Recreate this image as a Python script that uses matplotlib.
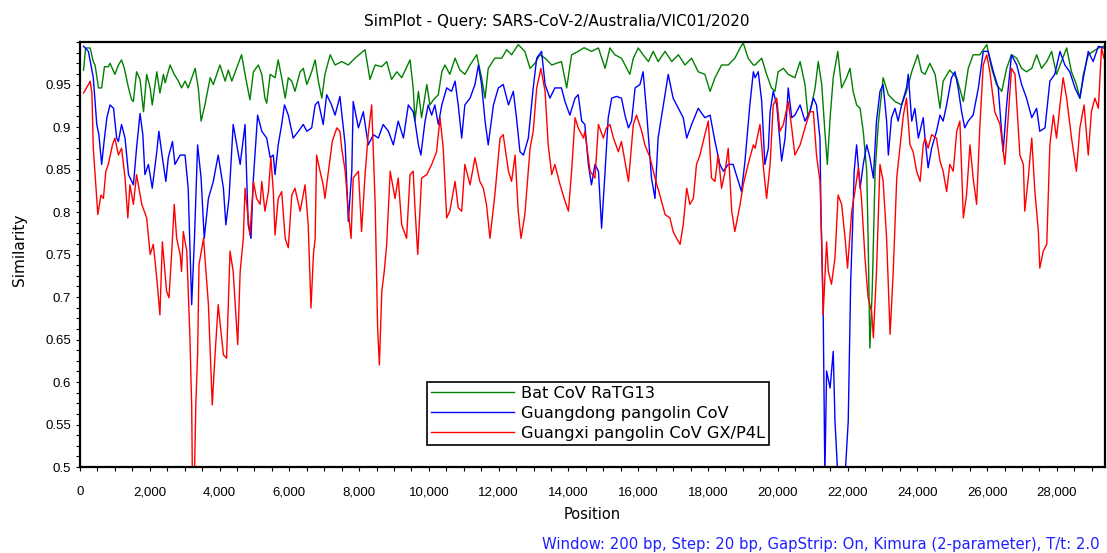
import matplotlib
matplotlib.use("Agg")
import matplotlib.pyplot as plt
from matplotlib.ticker import MultipleLocator, FuncFormatter

plt.rcParams['font.family'] = ['Liberation Sans', 'DejaVu Sans']
label_font = ['DejaVu Sans']

title = "SimPlot - Query: SARS-CoV-2/Australia/VIC01/2020"
footnote = "Window: 200 bp, Step: 20 bp, GapStrip: On, Kimura (2-parameter), T/t: 2.0"
series_names = ["Bat CoV RaTG13", "Guangdong pangolin CoV", "Guangxi pangolin CoV GX/P4L"]
series_colors = ["#008000", "#0000ff", "#ff0000"]

# values (position in bp, similarity)
bat_pos = [100, 160, 290, 380, 430, 530, 620, 700, 810, 860, 1000, 1100, 1190, 1270, 1390,
           1480, 1530, 1620, 1720, 1820, 1910, 2010, 2070, 2200, 2290, 2390, 2440, 2580, 2700,
           2820, 2910, 3010, 3100, 3300, 3390, 3470, 3580, 3730, 3820, 4010, 4160, 4250, 4350,
           4630, 4730, 4870, 4970, 5110, 5210, 5300, 5350, 5450, 5590, 5680, 5780, 5880, 5970,
           6070, 6160, 6310, 6400, 6500, 6640, 6740, 6830, 6930, 7020, 7170, 7310, 7500, 7690,
           7880, 8170, 8310, 8460, 8650, 8790, 8930, 9080, 9220, 9460, 9550, 9600, 9700, 9790,
           9940, 10030, 10130, 10270, 10370, 10460, 10600, 10750, 10890, 11030, 11180, 11370,
           11510, 11610, 11700, 11890, 12090, 12230, 12370, 12560, 12750, 12900, 13040, 13180,
           13330, 13520, 13800, 13950, 14090, 14280, 14430, 14470, 14660, 14860, 15050, 15190,
           15330, 15520, 15620, 15760, 15860, 16000, 16140, 16290, 16430, 16570, 16770, 16960,
           17150, 17340, 17530, 17720, 17910, 18060, 18200, 18390, 18580, 18770, 18920, 19010,
           19150, 19300, 19350, 19540, 19680, 19820, 19920, 20010, 20160, 20300, 20490, 20640,
           20780, 20870, 20970, 21070, 21160, 21260, 21350, 21420, 21500, 21590, 21720, 21830,
           21970, 22070, 22160, 22260, 22360, 22450, 22550, 22590, 22640, 22710, 22790, 22880,
           23020, 23170, 23360, 23550, 23690, 23840, 24010, 24120, 24220, 24360, 24510, 24650,
           24740, 24930, 25130, 25320, 25460, 25600, 25790, 25990, 26130, 26270, 26420, 26560,
           26700, 26850, 26990, 27130, 27280, 27420, 27560, 27710, 27850, 27990, 28130, 28280,
           28420, 28560, 28660, 28760, 28900, 29040, 29190, 29330]
bat_sim = [0.967, 0.993, 0.993, 0.977, 0.973, 0.946, 0.946, 0.971, 0.971, 0.975, 0.962, 0.973,
           0.979, 0.969, 0.946, 0.932, 0.930, 0.965, 0.956, 0.918, 0.962, 0.946, 0.926, 0.965,
           0.940, 0.962, 0.952, 0.973, 0.962, 0.954, 0.946, 0.954, 0.946, 0.969, 0.946, 0.907,
           0.926, 0.958, 0.950, 0.973, 0.954, 0.967, 0.954, 0.985, 0.962, 0.932, 0.965, 0.973,
           0.962, 0.934, 0.928, 0.962, 0.958, 0.979, 0.958, 0.934, 0.958, 0.954, 0.942, 0.965,
           0.969, 0.950, 0.965, 0.979, 0.954, 0.934, 0.962, 0.985, 0.973, 0.977, 0.973, 0.981,
           0.991, 0.956, 0.973, 0.971, 0.977, 0.956, 0.965, 0.958, 0.979, 0.946, 0.907, 0.942,
           0.911, 0.950, 0.926, 0.932, 0.938, 0.965, 0.973, 0.962, 0.981, 0.967, 0.962, 0.973,
           0.985, 0.958, 0.934, 0.969, 0.981, 0.981, 0.991, 0.985, 0.997, 0.989, 0.969, 0.975,
           0.985, 0.981, 0.973, 0.977, 0.946, 0.985, 0.989, 0.993, 0.993, 0.989, 0.993, 0.969,
           0.993, 0.985, 0.981, 0.973, 0.962, 0.981, 0.993, 0.985, 0.977, 0.989, 0.977, 0.989,
           0.977, 0.985, 0.973, 0.981, 0.965, 0.962, 0.942, 0.958, 0.973, 0.973, 0.981, 0.993,
           0.999, 0.981, 0.973, 0.973, 0.981, 0.962, 0.946, 0.942, 0.965, 0.969, 0.962, 0.958,
           0.977, 0.950, 0.911, 0.926, 0.946, 0.977, 0.950, 0.895, 0.856, 0.911, 0.958, 0.989,
           0.946, 0.958, 0.969, 0.942, 0.926, 0.922, 0.895, 0.848, 0.769, 0.640, 0.711, 0.848,
           0.903, 0.958, 0.938, 0.930, 0.926, 0.942, 0.965, 0.985, 0.965, 0.962, 0.975, 0.962,
           0.922, 0.954, 0.967, 0.958, 0.930, 0.969, 0.985, 0.985, 0.997, 0.969, 0.950, 0.942,
           0.969, 0.985, 0.981, 0.969, 0.965, 0.969, 0.985, 0.969, 0.977, 0.989, 0.962, 0.977,
           0.993, 0.965, 0.950, 0.934, 0.962, 0.985, 0.989, 0.993, 0.995]

gd_pos = [100, 240, 380, 480, 540, 620, 700, 770, 860, 960, 1050, 1100, 1190, 1290, 1390, 1530,
          1620, 1720, 1800, 1860, 1960, 2070, 2200, 2260, 2360, 2460, 2530, 2650, 2720, 2870,
          3010, 3100, 3200, 3280, 3370, 3470, 3560, 3680, 3820, 3960, 4110, 4180, 4270, 4390,
          4590, 4730, 4820, 4900, 4970, 5090, 5210, 5350, 5450, 5540, 5590, 5680, 5780, 5860,
          5970, 6110, 6260, 6400, 6500, 6640, 6740, 6830, 6970, 7070, 7210, 7310, 7450, 7600,
          7690, 7790, 7830, 7980, 8120, 8260, 8410, 8550, 8690, 8840, 8980, 9120, 9270, 9410,
          9550, 9600, 9700, 9770, 9890, 9980, 10080, 10170, 10270, 10370, 10510, 10650, 10750,
          10840, 10940, 11030, 11180, 11320, 11420, 11510, 11610, 11700, 11850, 11990, 12130,
          12280, 12420, 12510, 12610, 12710, 12850, 12990, 13090, 13230, 13330, 13470, 13610,
          13800, 13900, 14040, 14190, 14280, 14380, 14470, 14570, 14660, 14760, 14860, 14950,
          15050, 15140, 15240, 15380, 15520, 15620, 15720, 15810, 15910, 16050, 16140, 16240,
          16380, 16480, 16570, 16720, 16860, 17000, 17150, 17290, 17390, 17530, 17720, 17910,
          18060, 18200, 18340, 18440, 18580, 18720, 18870, 18960, 19060, 19200, 19300, 19350,
          19440, 19540, 19630, 19730, 19780, 19870, 19970, 20110, 20210, 20300, 20400, 20490,
          20640, 20780, 20920, 21020, 21110, 21210, 21240, 21300, 21350, 21400, 21500, 21590,
          21640, 21720, 21930, 22020, 22090, 22140, 22190, 22260, 22360, 22450, 22550, 22640,
          22740, 22830, 22930, 23020, 23120, 23170, 23260, 23360, 23450, 23550, 23690, 23740,
          23840, 23930, 24030, 24170, 24220, 24310, 24410, 24550, 24650, 24740, 24840, 24980,
          25080, 25170, 25270, 25360, 25460, 25600, 25750, 25890, 26030, 26180, 26320, 26460,
          26560, 26700, 26850, 26990, 27130, 27280, 27420, 27510, 27660, 27800, 27940, 28090,
          28230, 28370, 28520, 28660, 28760, 28900, 29040, 29190, 29330]
gd_sim = [0.995, 0.989, 0.958, 0.903, 0.891, 0.856, 0.887, 0.911, 0.926, 0.922, 0.887, 0.883,
          0.903, 0.887, 0.844, 0.832, 0.875, 0.916, 0.891, 0.844, 0.856, 0.828, 0.871, 0.895,
          0.864, 0.836, 0.864, 0.883, 0.856, 0.867, 0.867, 0.828, 0.691, 0.769, 0.879, 0.840,
          0.769, 0.816, 0.836, 0.867, 0.828, 0.785, 0.816, 0.903, 0.856, 0.903, 0.785, 0.769,
          0.840, 0.914, 0.895, 0.887, 0.864, 0.867, 0.844, 0.879, 0.903, 0.926, 0.914, 0.887,
          0.895, 0.903, 0.895, 0.899, 0.926, 0.930, 0.903, 0.938, 0.926, 0.914, 0.936, 0.879,
          0.789, 0.848, 0.930, 0.899, 0.918, 0.879, 0.891, 0.887, 0.903, 0.895, 0.879, 0.907,
          0.887, 0.926, 0.918, 0.907, 0.879, 0.867, 0.907, 0.926, 0.914, 0.926, 0.903, 0.926,
          0.946, 0.942, 0.954, 0.926, 0.887, 0.926, 0.934, 0.950, 0.973, 0.950, 0.907, 0.879,
          0.926, 0.946, 0.950, 0.926, 0.942, 0.911, 0.871, 0.867, 0.887, 0.946, 0.981, 0.989,
          0.950, 0.934, 0.946, 0.946, 0.930, 0.914, 0.934, 0.938, 0.907, 0.903, 0.856, 0.832,
          0.856, 0.848, 0.781, 0.848, 0.911, 0.934, 0.936, 0.934, 0.914, 0.899, 0.907, 0.946,
          0.950, 0.965, 0.918, 0.840, 0.816, 0.887, 0.926, 0.962, 0.934, 0.922, 0.911, 0.887,
          0.903, 0.922, 0.911, 0.914, 0.883, 0.856, 0.848, 0.856, 0.856, 0.836, 0.824, 0.860,
          0.926, 0.965, 0.958, 0.965, 0.930, 0.856, 0.875, 0.918, 0.942, 0.926, 0.860, 0.887,
          0.946, 0.911, 0.914, 0.926, 0.907, 0.918, 0.934, 0.926, 0.887, 0.793, 0.691, 0.49,
          0.613, 0.593, 0.636, 0.554, 0.49, 0.49, 0.554, 0.718, 0.777, 0.848, 0.879, 0.828,
          0.856, 0.879, 0.864, 0.840, 0.907, 0.942, 0.950, 0.907, 0.867, 0.911, 0.922, 0.907,
          0.926, 0.946, 0.962, 0.907, 0.922, 0.887, 0.911, 0.887, 0.852, 0.875, 0.895, 0.914,
          0.907, 0.926, 0.958, 0.965, 0.946, 0.918, 0.899, 0.907, 0.914, 0.946, 0.989, 0.989,
          0.965, 0.946, 0.871, 0.926, 0.985, 0.973, 0.950, 0.934, 0.911, 0.922, 0.895, 0.899,
          0.954, 0.962, 0.989, 0.973, 0.965, 0.946, 0.934, 0.958, 0.989, 0.977, 0.995, 0.993]

gx_pos = [100, 240, 290, 340, 380, 450, 510, 600, 670, 740, 810, 930, 1000, 1100, 1190, 1290,
          1370, 1430, 1530, 1620, 1770, 1910, 2010, 2100, 2200, 2290, 2360, 2480, 2550, 2630,
          2700, 2770, 2870, 2910, 2960, 3060, 3150, 3200, 3220, 3280, 3320, 3370, 3410, 3540,
          3680, 3790, 3870, 3960, 4110, 4200, 4300, 4390, 4520, 4590, 4680, 4730, 4800, 4870,
          4970, 5060, 5160, 5210, 5300, 5400, 5470, 5540, 5590, 5680, 5780, 5880, 5970, 6070,
          6160, 6310, 6450, 6540, 6620, 6690, 6740, 6780, 6880, 6970, 7020, 7120, 7230, 7360,
          7450, 7500, 7600, 7690, 7770, 7830, 7980, 8070, 8170, 8260, 8360, 8460, 8530, 8580,
          8650, 8720, 8790, 8890, 9030, 9120, 9220, 9360, 9460, 9550, 9600, 9680, 9790, 9940,
          10080, 10220, 10320, 10410, 10510, 10600, 10750, 10840, 10940, 11030, 11180, 11320,
          11460, 11560, 11650, 11750, 11890, 12040, 12130, 12280, 12370, 12470, 12560, 12640,
          12750, 12900, 12990, 13090, 13210, 13330, 13420, 13520, 13610, 13760, 13900, 14000,
          14090, 14190, 14280, 14430, 14470, 14620, 14760, 14860, 15000, 15090, 15190, 15290,
          15430, 15520, 15670, 15720, 15860, 15950, 16100, 16190, 16340, 16480, 16620, 16770,
          16910, 17000, 17100, 17200, 17290, 17390, 17480, 17580, 17670, 17770, 17910, 18010,
          18100, 18200, 18290, 18390, 18490, 18580, 18680, 18770, 18920, 19010, 19150, 19300,
          19350, 19490, 19590, 19680, 19780, 19870, 19970, 20060, 20160, 20300, 20400, 20490,
          20640, 20780, 20920, 21020, 21110, 21210, 21260, 21300, 21400, 21450, 21540, 21640,
          21730, 21830, 21930, 22000, 22120, 22210, 22310, 22400, 22500, 22590, 22690, 22740,
          22830, 22930, 23020, 23120, 23220, 23310, 23410, 23500, 23600, 23690, 23790, 23880,
          23980, 24080, 24170, 24220, 24310, 24410, 24550, 24650, 24740, 24840, 24930, 25030,
          25130, 25220, 25320, 25410, 25510, 25600, 25700, 25790, 25890, 25990, 26080, 26220,
          26370, 26510, 26610, 26700, 26800, 26940, 27040, 27080, 27180, 27280, 27370, 27470,
          27510, 27610, 27710, 27800, 27900, 27990, 28090, 28180, 28280, 28420, 28560, 28660,
          28780, 28900, 28990, 29090, 29190, 29280, 29350]
gx_sim = [0.940, 0.950, 0.954, 0.940, 0.875, 0.832, 0.797, 0.820, 0.816, 0.848, 0.856, 0.879,
          0.887, 0.867, 0.875, 0.840, 0.793, 0.832, 0.809, 0.844, 0.809, 0.793, 0.750, 0.762,
          0.722, 0.679, 0.765, 0.707, 0.699, 0.754, 0.809, 0.769, 0.750, 0.730, 0.777, 0.754,
          0.652, 0.573, 0.49, 0.49, 0.575, 0.632, 0.738, 0.769, 0.691, 0.573, 0.632, 0.691,
          0.632, 0.628, 0.754, 0.730, 0.644, 0.730, 0.769, 0.828, 0.801, 0.773, 0.836, 0.816,
          0.809, 0.836, 0.801, 0.824, 0.864, 0.824, 0.773, 0.816, 0.824, 0.769, 0.758, 0.820,
          0.828, 0.801, 0.832, 0.785, 0.687, 0.750, 0.769, 0.867, 0.848, 0.832, 0.816, 0.848,
          0.883, 0.899, 0.895, 0.875, 0.848, 0.801, 0.769, 0.840, 0.848, 0.777, 0.844, 0.891,
          0.926, 0.809, 0.664, 0.620, 0.707, 0.730, 0.762, 0.848, 0.816, 0.840, 0.785, 0.769,
          0.844, 0.848, 0.805, 0.750, 0.840, 0.844, 0.856, 0.871, 0.911, 0.875, 0.793, 0.801,
          0.836, 0.805, 0.801, 0.856, 0.832, 0.864, 0.836, 0.828, 0.809, 0.769, 0.820, 0.887,
          0.891, 0.848, 0.836, 0.867, 0.801, 0.769, 0.797, 0.875, 0.895, 0.946, 0.969, 0.942,
          0.879, 0.844, 0.856, 0.832, 0.813, 0.801, 0.848, 0.911, 0.899, 0.887, 0.895, 0.848,
          0.840, 0.903, 0.887, 0.899, 0.903, 0.887, 0.871, 0.883, 0.848, 0.836, 0.903, 0.914,
          0.895, 0.879, 0.864, 0.840, 0.820, 0.797, 0.793, 0.777, 0.769, 0.762, 0.785, 0.828,
          0.809, 0.816, 0.856, 0.867, 0.891, 0.907, 0.840, 0.836, 0.867, 0.828, 0.848, 0.875,
          0.801, 0.777, 0.809, 0.832, 0.856, 0.879, 0.875, 0.903, 0.852, 0.816, 0.856, 0.926,
          0.934, 0.895, 0.903, 0.930, 0.899, 0.867, 0.879, 0.899, 0.918, 0.918, 0.867, 0.836,
          0.765, 0.679, 0.765, 0.730, 0.715, 0.746, 0.820, 0.809, 0.769, 0.734, 0.801, 0.824,
          0.852, 0.816, 0.746, 0.699, 0.683, 0.652, 0.730, 0.856, 0.836, 0.769, 0.656, 0.730,
          0.840, 0.875, 0.914, 0.934, 0.879, 0.871, 0.848, 0.836, 0.879, 0.887, 0.875, 0.891,
          0.887, 0.860, 0.848, 0.824, 0.856, 0.848, 0.895, 0.907, 0.793, 0.820, 0.879, 0.840,
          0.809, 0.899, 0.973, 0.985, 0.965, 0.918, 0.903, 0.856, 0.914, 0.969, 0.962, 0.867,
          0.856, 0.801, 0.840, 0.887, 0.824, 0.777, 0.734, 0.754, 0.762, 0.879, 0.914, 0.887,
          0.926, 0.958, 0.934, 0.887, 0.848, 0.899, 0.926, 0.867, 0.918, 0.934, 0.922, 0.993,
          0.981]

fig = plt.figure(figsize=(11.07, 5.53), dpi=100)
ax = fig.add_axes([0.0723, 0.1555, 0.9259, 0.7685])

for pos, sim, name, color in zip([bat_pos, gd_pos, gx_pos], [bat_sim, gd_sim, gx_sim],
                                 series_names, series_colors):
    ax.plot(pos, sim, color=color, linewidth=1.0, label=name)

ax.set_xlim(0, 29380)
ax.set_ylim(0.5, 1.0)
ax.xaxis.set_major_locator(MultipleLocator(2000))
ax.xaxis.set_minor_locator(MultipleLocator(500))
ax.yaxis.set_major_locator(MultipleLocator(0.05))
ax.yaxis.set_minor_locator(MultipleLocator(0.0125))
ax.xaxis.set_major_formatter(FuncFormatter(lambda v, p: f"{int(v):,}"))
ax.yaxis.set_major_formatter(FuncFormatter(lambda v, p: "" if v > 0.97 else f"{v:g}"))
ax.tick_params(which='both', direction='out', labelsize=9.5, length=3, width=0.8)
ax.tick_params(axis='x', which='major', pad=11)
for s in ax.spines.values():
    s.set_linewidth(1.6)

# title and axis labels placed like the original window
fig.text(0.503, 0.962, title, ha='center', va='center', fontsize=11, family=label_font)
fig.text(0.535, 0.069, "Position", ha='center', va='center', fontsize=10.5, family=label_font)
fig.text(0.018, 0.548, "Similarity", ha='center', va='center', rotation=90,
         fontsize=11, family=label_font)

leg = ax.legend(loc='lower left', bbox_to_anchor=(0.3385, 0.0518), borderaxespad=0,
                prop={'family': label_font, 'size': 11.7},
                handlelength=5.1, handletextpad=0.42, fancybox=False, framealpha=1,
                edgecolor='black', borderpad=0.25, labelspacing=0.3)
leg.get_frame().set_linewidth(1.2)

fig.text(0.9937, 0.0145, footnote, ha='right', va='center', fontsize=10.7,
         color='#2020ff', family=label_font)

fig.savefig("out.png", dpi=100)
